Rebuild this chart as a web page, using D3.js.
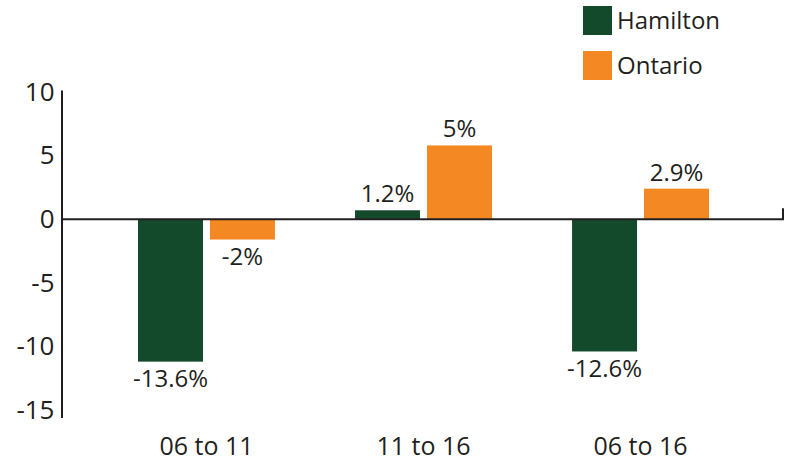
<!DOCTYPE html>
<html>
<head>
<meta charset="utf-8">
<script src="https://cdn.jsdelivr.net/npm/d3@7"></script>
<style>
  html, body { margin: 0; padding: 0; background: #ffffff; }
  svg { display: block; font-family: "Open Sans", "Noto Sans", sans-serif; }
</style>
</head>
<body>
<svg id="chart" width="785" height="464"></svg>
<script>
// ---- data ----
const categories = ["06 to 11", "11 to 16", "06 to 16"];
const seriesNames = ["Hamilton", "Ontario"];
// bar heights as drawn in the reference
const hamiltonValues = [-11.2, 0.7, -10.4];
const ontarioValues  = [-1.6, 5.8, 2.4];
// printed value labels
const hamiltonLabels = ["-13.6%", "1.2%", "-12.6%"];
const ontarioLabels  = ["-2%", "5%", "2.9%"];
const yTickValues = [10, 5, 0, -5, -10, -15];
const seriesColors = ["#134a2b", "#f48823"];

const textColor = "#231f20";
const svg = d3.select("#chart");

const y = d3.scaleLinear().domain([-15.6, 10.15]).range([417.6, 90.1]);
const x = d3.scaleBand().domain(categories).range([98, 749]).paddingInner(0.369).paddingOuter(0.1843);
const xSub = d3.scaleBand().domain(seriesNames).range([0, x.bandwidth()]).paddingInner(0.097);
const color = d3.scaleOrdinal().domain(seriesNames).range(seriesColors);

const rows = categories.map((c, i) => ({
  cat: c,
  items: [
    { s: "Hamilton", v: hamiltonValues[i], label: hamiltonLabels[i] },
    { s: "Ontario", v: ontarioValues[i], label: ontarioLabels[i] }
  ]
}));

// bars
const groups = svg.append("g").selectAll("g").data(rows).join("g")
  .attr("transform", d => `translate(${x(d.cat)},0)`);

groups.selectAll("rect").data(d => d.items).join("rect")
  .attr("x", d => xSub(d.s))
  .attr("width", xSub.bandwidth())
  .attr("y", d => d.v >= 0 ? y(d.v) : y(0))
  .attr("height", d => Math.abs(y(d.v) - y(0)))
  .attr("fill", d => color(d.s));

// value labels
groups.selectAll("text").data(d => d.items).join("text")
  .attr("x", d => xSub(d.s) + xSub.bandwidth() / 2)
  .attr("y", d => d.v >= 0 ? y(d.v) - 8 : y(d.v) + 7)
  .attr("dy", d => d.v >= 0 ? "0" : "0.76em")
  .attr("text-anchor", "middle")
  .attr("font-size", 24)
  .attr("fill", textColor)
  .text(d => d.label);

// y axis
const yAxis = svg.append("g")
  .attr("transform", "translate(61.5,0)")
  .call(d3.axisLeft(y).tickValues(yTickValues).tickSize(0).tickPadding(7).tickFormat(d => String(d)));
yAxis.select(".domain").attr("stroke", textColor).attr("stroke-width", 2);
yAxis.selectAll("text").attr("font-size", 26).attr("fill", textColor)
  .attr("font-family", "'Open Sans', 'Noto Sans', sans-serif");

// zero line with end tick
svg.append("path")
  .attr("d", `M61.5,${y(0)}H783V${y(0) - 11}`)
  .attr("fill", "none")
  .attr("stroke", textColor)
  .attr("stroke-width", 2);

// category labels
svg.append("g").selectAll("text").data(categories).join("text")
  .attr("x", d => x(d) + x.bandwidth() / 2)
  .attr("y", 455)
  .attr("text-anchor", "middle")
  .attr("font-size", 25)
  .attr("fill", textColor)
  .text(d => d);

// legend
const legend = svg.append("g").selectAll("g").data(seriesNames).join("g")
  .attr("transform", (d, i) => `translate(583,${6 + i * 45})`);
legend.append("rect").attr("width", 29).attr("height", 29).attr("fill", d => color(d));
legend.append("text")
  .attr("x", 34).attr("y", 23)
  .attr("font-size", 24)
  .attr("fill", textColor)
  .text(d => d);
</script>
</body>
</html>
